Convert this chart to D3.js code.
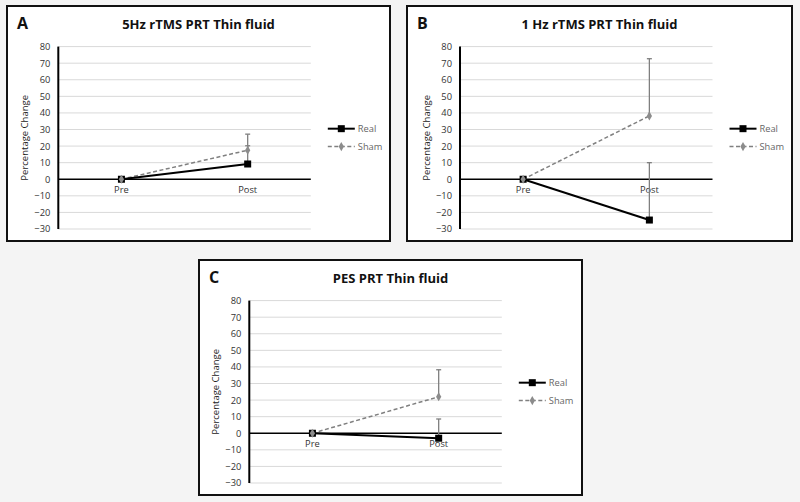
<!DOCTYPE html>
<html><head><meta charset="utf-8">
<script src="https://cdn.jsdelivr.net/npm/d3@7"></script>
<style>html,body{margin:0;padding:0;background:#f4f4f4;}svg{display:block;}</style>
</head><body>
<svg id="chart" width="800" height="502"></svg>
<script>
// ---- data ----
const categories = ["Pre", "Post"];
const yTicks = [80, 70, 60, 50, 40, 30, 20, 10, 0, -10, -20, -30];
const seriesNames = ["Real", "Sham"];
const panelLetters = ["A", "B", "C"];
const panelTitles = ["5Hz rTMS PRT Thin fluid", "1 Hz rTMS PRT Thin fluid", "PES PRT Thin fluid"];
const realA = [0, 9.2];    const realErrA = [0, 11];
const shamA = [0, 17.5];   const shamErrA = [0, 9.7];
const realB = [0, -24.6];  const realErrB = [0, 34.6];
const shamB = [0, 38.2];   const shamErrB = [0, 34.5];
const realC = [0, -3];     const realErrC = [0, 11.6];
const shamC = [0, 22];     const shamErrC = [0, 16.3];

// ---- layout ----
const boxes = [
  {x: 7, y: 6, w: 383, h: 235},
  {x: 407, y: 6, w: 385, h: 235},
  {x: 199, y: 260, w: 383, h: 235}
];
const panelData = [
  {real: realA, realErr: realErrA, sham: shamA, shamErr: shamErrA},
  {real: realB, realErr: realErrB, sham: shamB, shamErr: shamErrB},
  {real: realC, realErr: realErrC, sham: shamC, shamErr: shamErrC}
];
const axisOffsets = [51.3, 53, 50.3];

const svg = d3.select("#chart");
const FONT = "'Open Sans', 'Liberation Sans', sans-serif";

boxes.forEach((b, i) => {
  const g = svg.append("g").attr("transform", `translate(${b.x},${b.y})`);
  g.append("rect").attr("x", 0).attr("y", 0).attr("width", b.w).attr("height", b.h)
    .attr("fill", "#ffffff").attr("stroke", "#111").attr("stroke-width", 2);

  const left = axisOffsets[i], right = left + 252.5, top = 40.6, bottom = 223;
  const x = d3.scaleBand().domain(categories).range([left, right]);
  const y = d3.scaleLinear().domain([-30, 80]).range([bottom, top]);
  const cx = c => x(c) + x.bandwidth() / 2;

  // gridlines
  g.append("g").selectAll("line").data(yTicks.filter(t => t !== 0)).join("line")
    .attr("x1", left).attr("x2", right).attr("y1", d => y(d)).attr("y2", d => y(d))
    .attr("stroke", "#d9d9d9").attr("stroke-width", 1);

  // y axis (ticks labels)
  const yAxis = d3.axisLeft(y).tickValues(yTicks).tickSize(0).tickPadding(8);
  const ya = g.append("g").attr("transform", `translate(${left},0)`).call(yAxis);
  ya.select(".domain").remove();
  ya.selectAll("text").attr("font-family", FONT).attr("font-size", 9.3).attr("fill", "#333");
  g.append("line").attr("x1", left).attr("x2", left).attr("y1", top).attr("y2", bottom)
    .attr("stroke", "#000").attr("stroke-width", 2);

  // zero line + category labels
  g.append("line").attr("x1", left).attr("x2", right).attr("y1", y(0)).attr("y2", y(0))
    .attr("stroke", "#000").attr("stroke-width", 1.6);
  const xa = g.append("g").attr("transform", `translate(0,${y(0)})`)
    .call(d3.axisBottom(x).tickSize(0).tickPadding(7));
  xa.select(".domain").remove();
  xa.selectAll("text").attr("font-family", FONT).attr("font-size", 9.3).attr("fill", "#333");

  // y axis title
  g.append("text").attr("transform", `translate(${left - 30},${(top + bottom) / 2}) rotate(-90)`)
    .attr("text-anchor", "middle").attr("font-family", FONT).attr("font-size", 9.5)
    .attr("fill", "#222").text("Percentage Change");

  // title and letter
  g.append("text").attr("x", b.w / 2).attr("y", 22.5).attr("text-anchor", "middle")
    .attr("font-family", FONT).attr("font-weight", "bold").attr("font-size", 13)
    .attr("fill", "#111").text(panelTitles[i]);
  g.append("text").attr("x", 10).attr("y", 23).attr("font-family", FONT)
    .attr("font-weight", "bold").attr("font-size", 16).attr("fill", "#111").text(panelLetters[i]);

  const pd = panelData[i];
  const errColor = "#7f7f7f";
  // error bars (upward)
  [[pd.sham, pd.shamErr], [pd.real, pd.realErr]].forEach(([vals, errs]) => {
    categories.forEach((c, k) => {
      if (!errs[k]) return;
      const xx = cx(c);
      g.append("line").attr("x1", xx).attr("x2", xx).attr("y1", y(vals[k])).attr("y2", y(vals[k] + errs[k]))
        .attr("stroke", errColor).attr("stroke-width", 1.3);
      g.append("line").attr("x1", xx - 2.5).attr("x2", xx + 2.5)
        .attr("y1", y(vals[k] + errs[k])).attr("y2", y(vals[k] + errs[k]))
        .attr("stroke", errColor).attr("stroke-width", 1.3);
    });
  });

  const line = d3.line().x((d, k) => cx(categories[k])).y(d => y(d));
  // sham
  g.append("path").datum(pd.sham).attr("d", line).attr("fill", "none")
    .attr("stroke", "#808080").attr("stroke-width", 1.5).attr("stroke-dasharray", "4,2.5");
  // real
  g.append("path").datum(pd.real).attr("d", line).attr("fill", "none")
    .attr("stroke", "#000").attr("stroke-width", 2);
  g.append("g").selectAll("rect").data(pd.real).join("rect")
    .attr("x", (d, k) => cx(categories[k]) - 3.5).attr("y", d => y(d) - 3.5)
    .attr("width", 7).attr("height", 7).attr("fill", "#000");
  const diamond = d3.symbol().type(d3.symbolDiamond).size(24);
  g.append("g").selectAll("path").data(pd.sham).join("path")
    .attr("transform", (d, k) => `translate(${cx(categories[k])},${y(d)})`)
    .attr("d", diamond).attr("fill", "#8c8c8c");

  // legend
  const lx = right + 17;
  const ly = [y(30.5), y(19.7)];
  seriesNames.forEach((s, k) => {
    const lg = g.append("g");
    lg.append("line").attr("x1", lx).attr("x2", lx + 27).attr("y1", ly[k]).attr("y2", ly[k])
      .attr("stroke", k === 0 ? "#000" : "#808080").attr("stroke-width", k === 0 ? 2 : 1.5)
      .attr("stroke-dasharray", k === 0 ? null : "4,2.5");
    if (k === 0) {
      lg.append("rect").attr("x", lx + 13.5 - 3.5).attr("y", ly[k] - 3.5).attr("width", 7).attr("height", 7).attr("fill", "#000");
    } else {
      lg.append("path").attr("transform", `translate(${lx + 13.5},${ly[k]})`).attr("d", diamond).attr("fill", "#8c8c8c");
    }
    lg.append("text").attr("x", lx + 30).attr("y", ly[k] + 3.2).attr("font-family", FONT)
      .attr("font-size", 9.3).attr("fill", "#666").text(s);
  });
});
</script>
</body></html>
